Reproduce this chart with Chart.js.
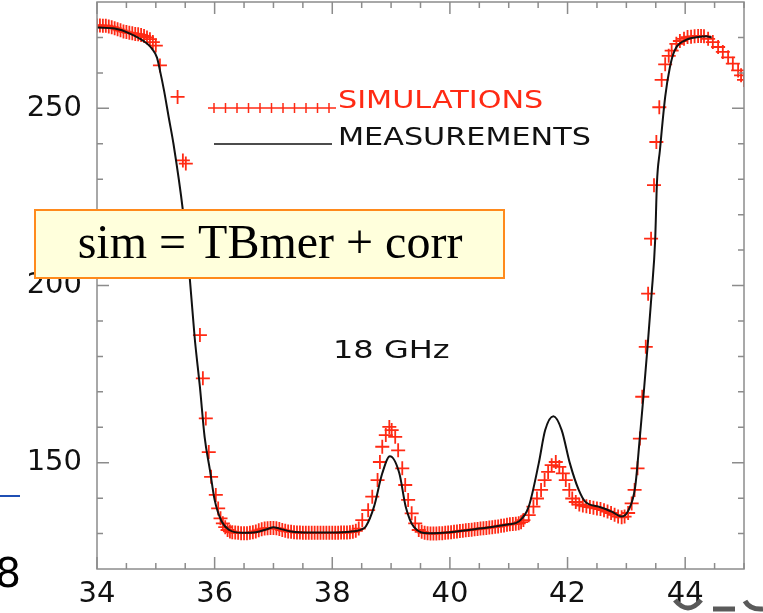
<!DOCTYPE html>
<html lang="en">

<head>
  <meta charset="UTF-8" />
  <title>18 GHz</title>
  <script src="https://cdn.jsdelivr.net/npm/chart.js"></script>
  <style>
    body { margin: 0; background: #fff; }
    #wrap { position: relative; width: 763px; height: 613px; }
  </style>
</head>

<body>
  <div id="wrap">
    <canvas id="tbChart"></canvas>
  </div>

  <script>
    // measurements (black line)
    const measFreq = [34.0, 34.3, 34.56, 34.85, 34.93, 35.02, 35.07, 35.14, 35.22, 35.3, 35.46, 35.58, 35.66, 35.75, 35.83, 35.92, 36.0, 36.12, 36.25, 36.47,
      36.7, 36.9, 37.0, 37.1, 37.3, 37.6, 38.0, 38.3, 38.5, 38.57, 38.71, 38.85, 38.98, 39.14, 39.25, 39.39, 39.64, 40.0, 40.5, 41.0,
      41.17, 41.34, 41.51, 41.62, 41.76, 41.9, 42.04, 42.19, 42.3, 42.53, 42.75, 42.92, 43.03, 43.15, 43.23, 43.29, 43.36, 43.43, 43.49, 43.52,
      43.57, 43.66, 43.74, 43.82, 43.99, 44.22, 44.36, 44.45];
    const measTb = [272.8, 272.5, 271.1, 268.3, 266.9, 264.3, 260.7, 255.0, 247.4, 240.0, 221.2, 201.5, 185.4, 171.3, 157.2, 147.9, 139.5, 133.4, 131.0, 130.2,
      130.4, 131.3, 131.8, 131.4, 130.6, 130.3, 130.3, 130.5, 131.2, 132.0, 137.6, 147.0, 151.8, 147.0, 137.5, 131.8, 130.1, 130.4, 131.4, 132.6,
      133.4, 137.6, 149.8, 159.2, 163.1, 159.2, 149.8, 142.3, 139.0, 137.6, 136.2, 134.8, 136.4, 143.2, 157.3, 168.6, 182.7, 197.8, 213.0, 229.0,
      238.1, 253.2, 261.6, 266.3, 269.1, 270.1, 270.3, 270.0];

    // simulations (red crosses)
    const simFreq = [34.0, 34.05, 34.1, 34.15, 34.2, 34.25, 34.3, 34.35, 34.4, 34.45, 34.5, 34.55, 34.6, 34.65, 34.7, 34.75, 34.8, 34.85, 34.9, 34.95,
      35.0, 35.07, 35.37, 35.46, 35.51, 35.75, 35.8, 35.85, 35.9, 35.94, 36.02, 36.06, 36.1, 36.14, 36.18, 36.22, 36.26, 36.3, 36.35, 36.4,
      36.45, 36.5, 36.55, 36.6, 36.65, 36.7, 36.75, 36.8, 36.85, 36.9, 36.95, 37.0, 37.05, 37.1, 37.15, 37.2, 37.25, 37.3, 37.35, 37.4,
      37.45, 37.5, 37.55, 37.6, 37.65, 37.7, 37.75, 37.8, 37.85, 37.9, 37.95, 38.0, 38.05, 38.1, 38.15, 38.2, 38.25, 38.3, 38.35, 38.4,
      38.45, 38.51, 38.61, 38.68, 38.77, 38.81, 38.85, 38.91, 38.97, 39.01, 39.07, 39.12, 39.19, 39.24, 39.29, 39.35, 39.41, 39.47, 39.52, 39.57,
      39.62, 39.67, 39.72, 39.77, 39.82, 39.87, 39.92, 39.97, 40.02, 40.07, 40.12, 40.17, 40.22, 40.27, 40.32, 40.37, 40.42, 40.47, 40.52, 40.57,
      40.62, 40.67, 40.72, 40.77, 40.82, 40.87, 40.92, 40.97, 41.02, 41.07, 41.12, 41.17, 41.21, 41.25, 41.34, 41.42, 41.48, 41.55, 41.61, 41.67,
      41.73, 41.8, 41.86, 41.92, 41.97, 42.03, 42.08, 42.14, 42.2, 42.26, 42.32, 42.38, 42.44, 42.5, 42.56, 42.62, 42.68, 42.74, 42.8, 42.86,
      42.92, 42.97, 43.03, 43.09, 43.14, 43.19, 43.23, 43.27, 43.33, 43.37, 43.42, 43.47, 43.51, 43.56, 43.6, 43.66, 43.72, 43.77, 43.85, 43.91,
      43.98, 44.04, 44.1, 44.16, 44.22, 44.27, 44.32, 44.39, 44.47, 44.56, 44.64, 44.73, 44.81, 44.9, 44.95, 45.0];
    const simTb = [273.4, 273.4, 273.3, 273.3, 273.1, 272.9, 272.6, 272.3, 272.0, 271.7, 271.5, 271.3, 271.2, 271.0, 270.9, 270.7, 270.4, 270.0, 269.5, 268.7,
      267.7, 262.1, 253.2, 235.3, 234.4, 186.0, 173.8, 162.5, 153.0, 146.0, 140.9, 137.1, 134.3, 132.9, 131.8, 131.0, 130.6, 130.4, 130.3, 130.2,
      130.1, 130.1, 130.1, 130.2, 130.4, 130.6, 130.9, 131.2, 131.4, 131.5, 131.6, 131.6, 131.5, 131.3, 131.0, 130.8, 130.6, 130.5, 130.4, 130.3,
      130.3, 130.2, 130.2, 130.2, 130.2, 130.2, 130.2, 130.2, 130.2, 130.2, 130.2, 130.2, 130.2, 130.2, 130.3, 130.3, 130.3, 130.4, 130.5, 130.8,
      131.4, 133.8, 136.6, 140.4, 145.1, 150.2, 154.5, 157.8, 160.1, 159.2, 157.3, 153.5, 148.4, 143.7, 139.5, 135.7, 132.9, 131.0, 130.5, 130.2,
      130.1, 130.0, 130.0, 130.0, 130.1, 130.1, 130.2, 130.3, 130.4, 130.5, 130.6, 130.7, 130.8, 130.9, 131.0, 131.1, 131.2, 131.3, 131.4, 131.5,
      131.6, 131.7, 131.8, 131.9, 132.0, 132.2, 132.3, 132.5, 132.6, 132.7, 132.8, 132.9, 133.2, 133.8, 135.2, 137.6, 139.9, 142.3, 145.1, 147.4,
      149.3, 150.2, 148.8, 147.0, 145.1, 142.3, 139.9, 138.9, 138.2, 137.9, 137.7, 137.5, 137.3, 137.1, 136.9, 136.6, 136.2, 135.8, 135.3, 134.8,
      134.6, 134.8, 135.8, 138.5, 142.3, 148.4, 156.8, 168.6, 182.7, 197.7, 213.2, 228.3, 240.5, 250.3, 258.0, 262.4, 264.8, 266.3, 268.2, 269.0,
      269.6, 270.1, 270.2, 270.3, 270.4, 270.4, 270.3, 269.6, 268.7, 267.3, 265.9, 264.4, 262.6, 260.7, 259.3, 258.0];

    const xTicks = [34, 36, 38, 40, 42, 44];
    const yTicks = [150, 200, 250];

    const RED = '#ff2a14';
    const AXIS = '#8c8c8c';

    function wideText(ctx, txt, x, y, sx) {
      ctx.save();
      ctx.translate(x, y);
      ctx.scale(sx, 1);
      ctx.fillText(txt, 0, 0);
      ctx.restore();
    }

    // frame, ticks on four sides, legend, labels, note box
    const decor = {
      id: 'decor',
      afterDraw(chart) {
        const ctx = chart.ctx;
        const a = chart.chartArea;
        const xs = chart.scales.x, ys = chart.scales.y;
        ctx.save();

        // frame
        ctx.strokeStyle = AXIS;
        ctx.lineWidth = 1.5;
        ctx.strokeRect(a.left, a.top, a.right - a.left, a.bottom - a.top);

        // x ticks every 0.5, long ones every 2
        ctx.beginPath();
        for (let v = 34; v <= 45.001; v += 0.5) {
          const px = xs.getPixelForValue(v);
          const len = Math.abs(v / 2 - Math.round(v / 2)) < 0.01 ? 12 : 6;
          ctx.moveTo(px, a.bottom); ctx.lineTo(px, a.bottom - len);
          ctx.moveTo(px, a.top); ctx.lineTo(px, a.top + len);
        }
        // y ticks every 10, long ones every 50
        for (let v = 130; v <= 270; v += 10) {
          const py = ys.getPixelForValue(v);
          const len = v % 50 === 0 ? 12 : 6;
          ctx.moveTo(a.left, py); ctx.lineTo(a.left + len, py);
          ctx.moveTo(a.right, py); ctx.lineTo(a.right - len, py);
        }
        ctx.stroke();

        // legend
        ctx.strokeStyle = RED;
        ctx.lineWidth = 1.5;
        ctx.beginPath();
        ctx.moveTo(208, 108); ctx.lineTo(336, 108);
        for (let i = 0; i < 11; i++) {
          const px = 214 + i * 11.5;
          ctx.moveTo(px, 103); ctx.lineTo(px, 113);
        }
        ctx.stroke();
        ctx.strokeStyle = '#111';
        ctx.beginPath();
        ctx.moveTo(214, 144); ctx.lineTo(332, 144);
        ctx.stroke();

        ctx.font = '25px "DejaVu Sans"';
        ctx.textBaseline = 'alphabetic';
        ctx.textAlign = 'left';
        ctx.fillStyle = RED;
        wideText(ctx, 'SIMULATIONS', 338, 108, 1.21);
        ctx.fillStyle = '#111';
        wideText(ctx, 'MEASUREMENTS', 338, 145, 1.21);
        wideText(ctx, '18 GHz', 333, 358, 1.28);

        // note box
        ctx.fillStyle = '#ffffdc';
        ctx.fillRect(35, 210, 469, 68);
        ctx.strokeStyle = '#ff8a1c';
        ctx.lineWidth = 2;
        ctx.strokeRect(35, 210, 469, 68);
        ctx.fillStyle = '#000';
        ctx.font = '48px "Liberation Serif"';
        ctx.textAlign = 'center';
        ctx.fillText('sim = TBmer + corr', 270, 258);

        // slide leftovers at the edges
        ctx.strokeStyle = '#1f4fb4';
        ctx.lineWidth = 2;
        ctx.beginPath(); ctx.moveTo(0, 496); ctx.lineTo(20, 496); ctx.stroke();
        ctx.fillStyle = '#000';
        ctx.font = '41px "DejaVu Sans"';
        ctx.textAlign = 'right';
        ctx.fillText('8', 21, 587);

        ctx.strokeStyle = '#5a5a5a';
        ctx.lineWidth = 5;
        ctx.beginPath();
        ctx.moveTo(675, 600); ctx.quadraticCurveTo(688, 616, 701, 600);
        ctx.moveTo(713, 609); ctx.lineTo(735, 609);
        ctx.moveTo(745, 601); ctx.quadraticCurveTo(750, 610, 763, 609);
        ctx.stroke();

        ctx.restore();
      }
    };

    const tickFont = { family: 'DejaVu Sans', size: 29 };

    new Chart(document.getElementById('tbChart'), {
      type: 'scatter',
      data: {
        datasets: [
          {
            label: 'MEASUREMENTS',
            data: measFreq.map((f, i) => ({ x: f, y: measTb[i] })),
            showLine: true,
            borderColor: '#111',
            borderWidth: 2,
            pointRadius: 0,
            cubicInterpolationMode: 'monotone',
            clip: 0
          },
          {
            label: 'SIMULATIONS',
            data: simFreq.map((f, i) => ({ x: f, y: simTb[i] })),
            showLine: false,
            pointStyle: 'cross',
            pointRadius: 7,
            pointBorderWidth: 1.8,
            borderColor: RED,
            backgroundColor: RED,
            clip: 0
          }
        ]
      },
      options: {
        responsive: true,
        maintainAspectRatio: false,
        animation: false,
        events: [],
        layout: { autoPadding: false, padding: { top: 2, right: 19, left: 0, bottom: 0 } },
        plugins: { legend: { display: false }, tooltip: { enabled: false } },
        scales: {
          x: {
            type: 'linear',
            min: 34,
            max: 45,
            afterBuildTicks: s => { s.ticks = xTicks.map(v => ({ value: v })); },
            afterFit: s => { s.height = 44; s.paddingLeft = 0; s.paddingRight = 0; },
            grid: { display: false, drawTicks: false },
            border: { display: false },
            ticks: { font: tickFont, color: '#111', padding: 8, maxRotation: 0, autoSkip: false }
          },
          y: {
            min: 120,
            max: 280,
            afterBuildTicks: s => { s.ticks = yTicks.map(v => ({ value: v })); },
            afterFit: s => { s.width = 97; s.paddingTop = 0; s.paddingBottom = 0; },
            grid: { display: false, drawTicks: false },
            border: { display: false },
            ticks: { font: tickFont, color: '#111', padding: 15 }
          }
        }
      },
      plugins: [decor]
    });
  </script>
</body>

</html>
